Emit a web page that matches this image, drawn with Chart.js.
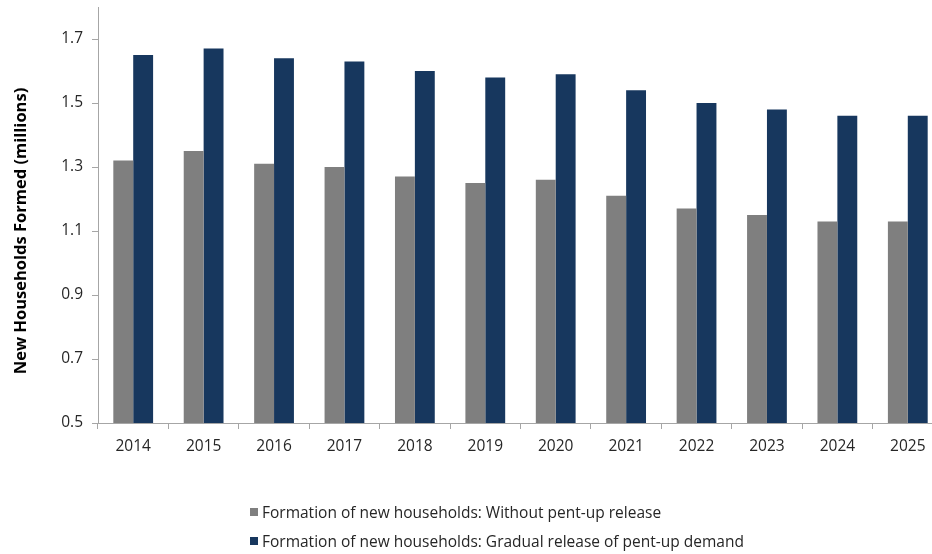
<!DOCTYPE html>
<html>
<head>
<meta charset="utf-8">
<title>New households formed</title>
<script src="https://cdn.jsdelivr.net/npm/chart.js@4/dist/chart.umd.min.js"></script>
<style>
    html, body {
        margin: 0;
        padding: 0;
        background: #ffffff;
        overflow: hidden;
    }
    #wrap {
        position: relative;
        width: 943px;
        height: 554px;
    }
    #legend {
        position: absolute;
        left: 250px;
        top: 497px;
        font-family: "Open Sans", sans-serif;
        font-size: 15.5px;
        color: #262626;
    }
    .legend-row {
        display: flex;
        align-items: center;
        height: 29px;
    }
    .legend-box {
        width: 8px;
        height: 8px;
        margin-right: 4px;
    }
</style>
</head>
<body>
<div id="wrap">
    <canvas id="households" width="943" height="554"></canvas>
    <div id="legend"></div>
</div>
<script>
const years = ['2014', '2015', '2016', '2017', '2018', '2019', '2020', '2021', '2022', '2023', '2024', '2025'];
const withoutRelease = [1.32, 1.35, 1.31, 1.30, 1.27, 1.25, 1.26, 1.21, 1.17, 1.15, 1.13, 1.13];
const gradualRelease = [1.65, 1.67, 1.64, 1.63, 1.60, 1.58, 1.59, 1.54, 1.50, 1.48, 1.46, 1.46];
const yTicks = [0.5, 0.7, 0.9, 1.1, 1.3, 1.5, 1.7];
const yTitle = 'New Households Formed (millions)';
const seriesNames = [
    'Formation of new households: Without pent-up release',
    'Formation of new households: Gradual release of pent-up demand'
];
const seriesColors = ['#7f7f7f', '#17375e'];

const axisColor = '#a6a6a6';
const textColor = '#262626';

// y axis title, set a little below the middle of the axis
const yTitlePlugin = {
    id: 'yTitle',
    afterDraw(chart) {
        const ctx = chart.ctx;
        const area = chart.chartArea;
        ctx.save();
        ctx.translate(21, (area.top + area.bottom) / 2 + 16);
        ctx.rotate(-Math.PI / 2);
        ctx.font = 'bold 16.5px "Open Sans", sans-serif';
        ctx.fillStyle = '#000000';
        ctx.textAlign = 'center';
        ctx.textBaseline = 'middle';
        ctx.fillText(yTitle, 0, 0);
        ctx.restore();
    },
};

function getData() {
    return {
        labels: years,
        datasets: [
            {
                label: seriesNames[0],
                data: withoutRelease,
                backgroundColor: seriesColors[0],
                barPercentage: 1,
                categoryPercentage: 0.565,
            },
            {
                label: seriesNames[1],
                data: gradualRelease,
                backgroundColor: seriesColors[1],
                barPercentage: 1,
                categoryPercentage: 0.565,
            },
        ],
    };
}

function getConfig(data) {
    return {
        type: 'bar',
        data: data,
        plugins: [yTitlePlugin],
        options: {
            responsive: false,
            animation: false,
            layout: {
                padding: {top: 7, left: 0, right: 0, bottom: 0},
            },
            plugins: {
                legend: {display: false},
                tooltip: {enabled: false},
            },
            scales: {
                x: {
                    grid: {
                        display: true,
                        drawOnChartArea: false,
                        offset: true,
                        tickLength: 6,
                        color: axisColor,
                    },
                    border: {color: axisColor},
                    ticks: {
                        color: textColor,
                        font: {size: 15.5},
                        padding: 8,
                        maxRotation: 0,
                    },
                    afterFit: (scale) => { scale.height = 131; },
                },
                y: {
                    min: 0.5,
                    max: 1.8,
                    grid: {
                        drawOnChartArea: false,
                        tickLength: 6,
                        color: axisColor,
                    },
                    border: {color: axisColor},
                    ticks: {
                        color: textColor,
                        font: {size: 15.5},
                        padding: 9,
                        callback: (value) => value.toFixed(1),
                    },
                    // ticks run 0.5..1.7 in steps of 0.2; the axis top (1.8) has none
                    afterBuildTicks: (scale) => {
                        scale.ticks = yTicks.map(v => ({value: v}));
                    },
                    afterFit: (scale) => {
                        scale.width = 98;
                        // no extra room for the end labels, the plot starts at the layout padding
                        scale.paddingTop = 0;
                        scale.paddingBottom = 0;
                    },
                },
            },
        },
    };
}

function drawLegend() {
    const legend = document.getElementById('legend');
    seriesNames.forEach((name, i) => {
        const row = document.createElement('div');
        row.className = 'legend-row';
        const box = document.createElement('span');
        box.className = 'legend-box';
        box.style.background = seriesColors[i];
        const label = document.createElement('span');
        label.textContent = name;
        row.appendChild(box);
        row.appendChild(label);
        legend.appendChild(row);
    });
}

Chart.defaults.font.family = '"Open Sans", sans-serif';
new Chart(document.getElementById('households'), getConfig(getData()));
drawLegend();
</script>
</body>
</html>
